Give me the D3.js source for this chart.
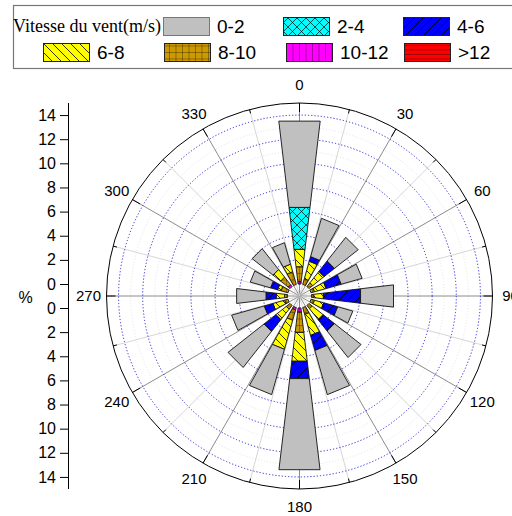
<!DOCTYPE html>
<html><head><meta charset="utf-8">
<script src="https://cdn.jsdelivr.net/npm/d3@7"></script>
<style>body{margin:0;background:#fff}svg{display:block}text{font-family:"Liberation Sans",Arial,sans-serif}</style>
</head><body>
<script>
// ---------- data ----------
const directions = ["N","NNE","NE","ENE","E","ESE","SE","SSE","S","SSW","SW","WSW","W","WNW","NW","NNW"];
const dirAngles = [0,22.5,45,67.5,90,112.5,135,157.5,180,202.5,225,247.5,270,292.5,315,337.5];
const speedClasses = ["0-2","2-4","4-6","6-8","8-10","10-12",">12"];
// percentage per direction and speed class
const s0_2   = [7.2,3.3,2.5,1.8,2.75,1.3,2.8,3.8,7.6,3.9,3.8,2.8,2.45,1.75,2.2,1.85];
const s2_4   = [3.5,0,0,0,0,0,0,0,0,0,0,0,0,0,0,0];
const s4_6   = [0,0.4,1.1,1.3,3.1,1.2,1.2,1.3,1.45,0,1.25,0.75,0.85,0.6,0,0];
const s6_8   = [1.45,1.5,1.2,1.0,0.8,0.8,1.15,1.8,2.4,2.5,1.1,1.0,0.7,0.3,0.8,0.65];
const s8_10  = [1.25,0.5,0.4,0.3,0.2,0.3,0.35,0.6,1.7,0.9,0.4,0.3,0.25,0.6,0.8,1.1];
const s10_12 = [0.2,0,0,0,0,0,0,0,0.35,0.2,0,0,0,0,0.2,0];
const s12p   = [0,0,0,0,0,0,0,0,0,0,0,0,0,0,0,0];
const radialTicks = [0,2,4,6,8,10,12,14];
const angleTicks = [0,30,60,90,120,150,180,210,240,270,300,330];
const legendTitle = "Vitesse du vent(m/s)";

// ---------- setup ----------
const W = 512, H = 516, cx = 299.5, cy = 296;
const svg = d3.select("body").append("svg").attr("width", W).attr("height", H);
const r = d3.scaleLinear().domain([0, 15]).range([12, 193]);
const pt = (rad, deg) => { const a = deg * Math.PI / 180; return [cx + rad * Math.sin(a), cy - rad * Math.cos(a)]; };

const fills = {"0-2":"#c0c0c0","2-4":"#00ffff","4-6":"#0000ff","6-8":"#ffff00","8-10":"#cc9900","10-12":"#ff00ff",">12":"#ff0000"};
const defs = svg.append("defs");
function pattern(id, w, h, fill, d, sw) {
  const p = defs.append("pattern").attr("id", id).attr("patternUnits", "userSpaceOnUse").attr("width", w).attr("height", h);
  p.append("rect").attr("width", w).attr("height", h).attr("fill", fill);
  if (d) p.append("path").attr("d", d).attr("stroke", "#000").attr("stroke-width", sw).attr("fill", "none");
}
pattern("p0", 10, 10, fills["0-2"], null);
pattern("p1", 9, 9, fills["2-4"], "M0,0L9,9M9,0L0,9", 0.7);
pattern("p2", 9, 9, fills["4-6"], "M-1,10L10,-1M-2,2L2,-2M7,11L11,7", 0.8);
pattern("p3", 9, 9, fills["6-8"], "M-1,-1L10,10M-2,7L2,11M7,-2L11,2", 0.8);
pattern("p4", 6.5, 6.5, fills["8-10"], "M0,0H6.5M0,0V6.5", 0.6);
pattern("p5", 6.5, 10, fills["10-12"], "M0,0V10", 0.7);
pattern("p6", 10, 4.5, fills[">12"], "M0,0H10", 0.7);
const patId = {"0-2":"p0","2-4":"p1","4-6":"p2","6-8":"p3","8-10":"p4","10-12":"p5",">12":"p6"};

// ---------- legend ----------
const lg = svg.append("g");
lg.append("rect").attr("x", 13.5).attr("y", 5.5).attr("width", 540).attr("height", 63)
  .attr("fill", "#fff").attr("stroke", "#777").attr("stroke-width", 1.2);
lg.append("text").attr("x", 13).attr("y", 32).text(legendTitle)
  .style("font-family", "'Liberation Serif','Times New Roman',serif").style("font-size", "18px");
const legPos = [[163,26],[283,26],[403,26],[43,52],[164,52],[286,52],[404,52]];
speedClasses.forEach((k, i) => {
  const [x, y] = legPos[i];
  lg.append("rect").attr("x", x + 0.5).attr("y", y - 8.5).attr("width", 46).attr("height", 18)
    .attr("fill", `url(#${patId[k]})`).attr("stroke", k === "0-2" ? "#777" : "#222").attr("stroke-width", 1);
  lg.append("text").attr("x", x + 54).attr("y", y + 7).text(k).style("font-size", "19px");
});

// ---------- polar grid ----------
const grid = svg.append("g");
d3.range(1, 15, 2).forEach(v => grid.append("circle").attr("cx", cx).attr("cy", cy).attr("r", r(v))
  .attr("fill", "none").attr("stroke", "#e4e4e4").attr("stroke-width", 1).attr("stroke-dasharray", "1,2"));
d3.range(0, 360, 15).forEach(a => {
  const [x, y] = pt(r(15), a);
  grid.append("line").attr("x1", cx).attr("y1", cy).attr("x2", x).attr("y2", y)
    .attr("stroke", a % 30 === 0 ? "#8c8c8c" : "#d6d6d6").attr("stroke-width", 1);
});
radialTicks.filter(v => v > 0).forEach(v => grid.append("circle").attr("cx", cx).attr("cy", cy).attr("r", r(v))
  .attr("fill", "none").attr("stroke", "#2a2ad8").attr("stroke-width", 1).attr("stroke-dasharray", "1.2,2"));
grid.append("circle").attr("cx", cx).attr("cy", cy).attr("r", r(15)).attr("fill", "none").attr("stroke", "#000").attr("stroke-width", 1);
d3.range(0, 360, 15).forEach(a => {
  const [x1, y1] = pt(r(15), a), [x2, y2] = pt(r(15) - (a % 30 === 0 ? 9 : 4), a);
  grid.append("line").attr("x1", x1).attr("y1", y1).attr("x2", x2).attr("y2", y2).attr("stroke", "#000").attr("stroke-width", 1);
});
angleTicks.forEach(a => {
  const [x, y] = pt(211, a);
  svg.append("text").attr("x", x).attr("y", y).attr("dy", "0.36em").attr("text-anchor", "middle")
    .style("font-size", "15px").text(a);
});

// ---------- bars ----------
const rows = directions.map((d, i) => ({dir: d, angle: dirAngles[i],
  "0-2": s0_2[i], "2-4": s2_4[i], "4-6": s4_6[i], "6-8": s6_8[i], "8-10": s8_10[i], "10-12": s10_12[i], ">12": s12p[i]}));
const stackOrder = [">12","10-12","8-10","6-8","4-6","2-4","0-2"];
const series = d3.stack().keys(stackOrder)(rows);
const hw = 6.75;
const bars = svg.append("g");
series.forEach(s => {
  s.forEach(seg => {
    if (seg[1] - seg[0] <= 0) return;
    const a = seg.data.angle;
    const p = [pt(r(seg[0]), a - hw), pt(r(seg[1]), a - hw), pt(r(seg[1]), a + hw), pt(r(seg[0]), a + hw)];
    bars.append("path").attr("d", "M" + p.map(q => q.join(",")).join("L") + "Z")
      .attr("fill", `url(#${patId[s.key]})`).attr("stroke", "#111").attr("stroke-width", 0.9);
  });
});

// ---------- left axis ----------
const ax = 68;
const yUp = d3.scaleLinear().domain([0, 15]).range([cy - r(0), cy - r(15)]);
const yDn = d3.scaleLinear().domain([0, 15]).range([cy + r(0), cy + r(15)]);
const axG = svg.append("g");
[yUp, yDn].forEach(sc => {
  const g = axG.append("g").attr("transform", `translate(${ax},0)`)
    .call(d3.axisLeft(sc).tickValues(radialTicks).tickSize(8).tickPadding(4));
  g.select(".domain").remove();
  g.selectAll("text").style("font-size", "16px").style("font-family", "'Liberation Sans',Arial,sans-serif").attr("fill", "#000");
  g.selectAll("line").attr("stroke", "#000");
});
axG.append("line").attr("x1", ax + 0.5).attr("x2", ax + 0.5).attr("y1", cy - r(15)).attr("y2", cy + r(15)).attr("stroke", "#000");
svg.append("text").attr("x", 25.5).attr("y", cy + 1).attr("dy", "0.36em").attr("text-anchor", "middle").style("font-size", "16px").text("%");
</script>
</body></html>
